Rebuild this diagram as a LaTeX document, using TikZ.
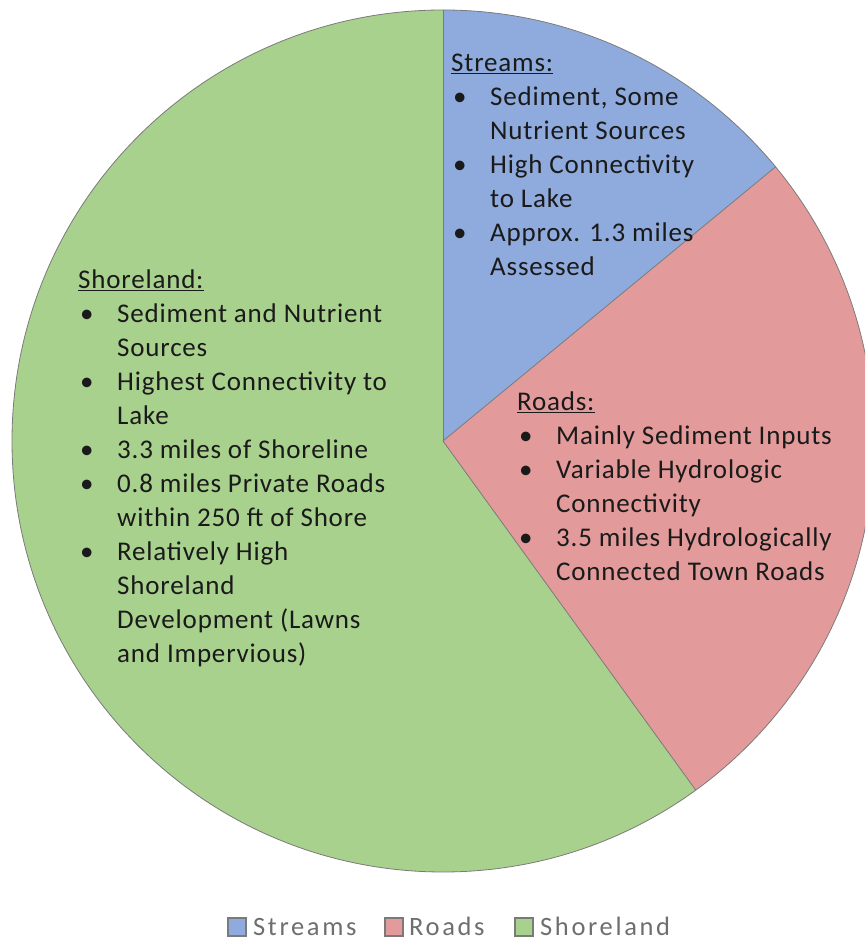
\documentclass[tikz,border=0pt]{standalone}
\usepackage{fontspec}
\setmainfont{Carlito}
\definecolor{cstream}{HTML}{8FAADC}
\definecolor{croad}{HTML}{E39A9A}
\definecolor{cshore}{HTML}{A9D18E}
\definecolor{ctext}{HTML}{1A1A1A}
\definecolor{clegend}{HTML}{6E6E6E}
\definecolor{cedge}{HTML}{7A7A7A}
\newcommand{\bul}{\hspace*{2pt}\makebox[37pt][l]{•}}
\newcommand{\ind}{\hspace*{39pt}}
\tikzset{
  slice/.style={draw=cedge, line width=0.8pt, line join=round},
  block/.style={anchor=base west, inner sep=0pt, align=left, text=ctext,
    font=\fontsize{27}{34}\selectfont\addfontfeature{LetterSpace=3}},
  legbox/.style={draw=cedge, line width=1.2pt, minimum size=18pt, inner sep=0pt},
  legtext/.style={anchor=base west, inner sep=0pt, text=clegend,
    font=\fontsize{26.5}{30}\selectfont\addfontfeature{LetterSpace=10}}
}
\begin{document}
\begin{tikzpicture}[x=1pt,y=1pt]
\useasboundingbox (0,0) rectangle (865,939);
\begin{scope}
\clip (0,0) rectangle (865,939);
\coordinate (c) at (443,498);
\fill[cshore] (c) -- ++(90:431) arc[start angle=90, end angle=305.9, radius=431] -- cycle;
\fill[cstream] (c) -- ++(90:431) arc[start angle=90, end angle=39.5, radius=431] -- cycle;
\fill[croad] (c) -- ++(39.5:431) arc[start angle=39.5, end angle=-54.1, radius=431] -- cycle;
\draw[slice] (c) -- ++(90:431);
\draw[slice] (c) -- ++(39.5:431);
\draw[slice] (c) -- ++(-54.1:431);
\draw[slice] (c) circle[radius=431];
\end{scope}

\node[block] (streams) at (451,663) {\underline{Streams:}\\
\bul Sediment, Some\\
\ind Nutrient Sources\\
\bul High Connectivity\\
\ind to Lake\\
\bul Approx. 1.3 miles\\
\ind Assessed};

\node[block] (roads) at (517,358) {\underline{Roads:}\\
\bul Mainly Sediment Inputs\\
\bul Variable Hydrologic\\
\ind Connectivity\\
\bul 3.5 miles Hydrologically\\
\ind Connected Town Roads};

\node[block] (shore) at (78,276) {\underline{Shoreland:}\\
\bul Sediment and Nutrient\\
\ind Sources\\
\bul Highest Connectivity to\\
\ind Lake\\
\bul 3.3 miles of Shoreline\\
\bul 0.8 miles Private Roads\\
\ind within 250 ft of Shore\\
\bul Relatively High\\
\ind Shoreland\\
\ind Development (Lawns\\
\ind and Impervious)};

\node[legbox, fill=cstream] (ls) at (237,12) {};
\node[legtext] (lst) at (253,4) {Streams};
\node[legbox, fill=croad] (lr) at (394,12) {};
\node[legtext] (lrt) at (409,4) {Roads};
\node[legbox, fill=cshore] (lsh) at (524,12) {};
\node[legtext] (lsht) at (540,4) {Shoreland};
\end{tikzpicture}
\end{document}
